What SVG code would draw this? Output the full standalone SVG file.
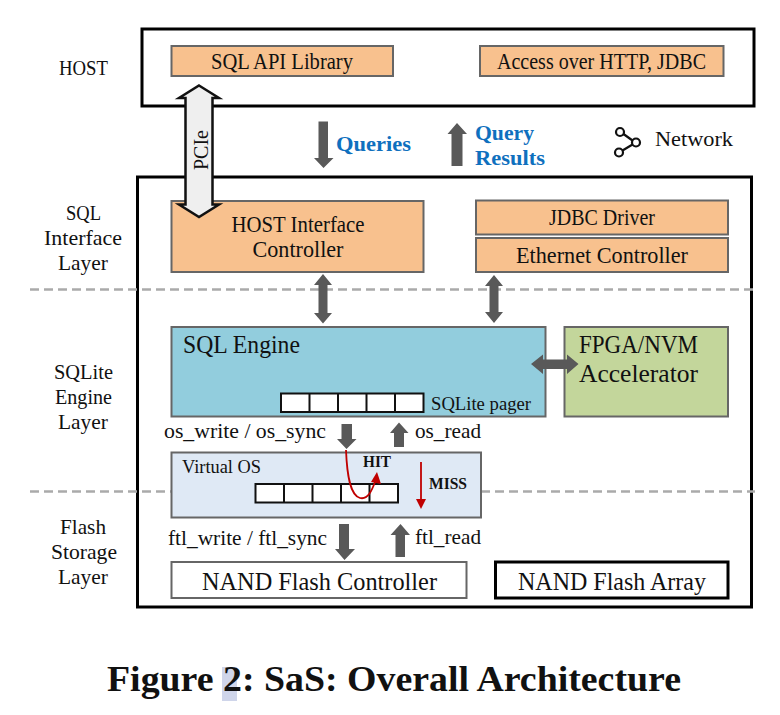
<svg xmlns="http://www.w3.org/2000/svg" width="780" height="715" viewBox="0 0 780 715">
<defs><style>
text{font-family:"Liberation Serif","Times New Roman",serif;fill:#111;text-anchor:middle}
.t20{font-size:22px}.t21{font-size:23px}.t24{font-size:26px}
.blue{fill:#0f70be;font-weight:bold;font-size:21px;text-anchor:start}
.or{fill:#f8c18e;stroke:#666;stroke-width:2}
.frame{fill:#fff;stroke:#000;stroke-width:3}
.ga{fill:#595959}
.cell{fill:#fff;stroke:#111;stroke-width:2}
.s{text-anchor:start}
.e{font-size:21px;text-anchor:start}
</style></defs>
<rect width="780" height="715" fill="#fff"/>
<g id="host"><rect class="frame" x="142" y="29" width="612" height="77"/><text class="t20" x="83.500" y="75" textLength="49" lengthAdjust="spacingAndGlyphs">HOST</text></g>
<g id="sql-api"><rect class="or" x="171.500" y="46" width="221.500" height="30"/><text class="t21" x="282" y="69" textLength="142" lengthAdjust="spacingAndGlyphs">SQL API Library</text></g>
<g id="access"><rect class="or" x="480" y="46" width="243.500" height="30"/><text class="t21" x="601.500" y="69" textLength="209" lengthAdjust="spacingAndGlyphs">Access over HTTP, JDBC</text></g>
<g id="device"><rect class="frame" x="137.500" y="177" width="614" height="430"/></g>
<g id="dividers"><line x1="30" y1="289.500" x2="755" y2="289.500" stroke="#aaa" stroke-width="2.500" stroke-dasharray="9 5"/><line x1="30" y1="491.500" x2="171" y2="491.500" stroke="#aaa" stroke-width="2.500" stroke-dasharray="9 5"/><line x1="481" y1="491.500" x2="755" y2="491.500" stroke="#aaa" stroke-width="2.500" stroke-dasharray="9 5"/></g>
<g id="layer-labels" class="t20">
<text x="83.500" y="220" textLength="35" lengthAdjust="spacingAndGlyphs">SQL</text><text x="83" y="245" textLength="78" lengthAdjust="spacingAndGlyphs">Interface</text><text x="83" y="270" textLength="50" lengthAdjust="spacingAndGlyphs">Layer</text>
<text x="83.500" y="379" textLength="59" lengthAdjust="spacingAndGlyphs">SQLite</text><text x="83.500" y="404" textLength="57" lengthAdjust="spacingAndGlyphs">Engine</text><text x="83" y="429" textLength="50" lengthAdjust="spacingAndGlyphs">Layer</text>
<text x="83" y="534" textLength="46" lengthAdjust="spacingAndGlyphs">Flash</text><text x="84" y="559" textLength="66" lengthAdjust="spacingAndGlyphs">Storage</text><text x="83" y="584" textLength="50" lengthAdjust="spacingAndGlyphs">Layer</text>
</g>
<g id="host-if"><rect class="or" x="171.500" y="201" width="252" height="71"/><text class="t21" x="298" y="232" textLength="133" lengthAdjust="spacingAndGlyphs">HOST Interface</text><text class="t21" x="298" y="257" textLength="91" lengthAdjust="spacingAndGlyphs">Controller</text></g>
<g id="jdbc"><rect class="or" x="476" y="200.500" width="252" height="34"/><text class="t21" x="602" y="225" textLength="106" lengthAdjust="spacingAndGlyphs">JDBC Driver</text></g>
<g id="eth"><rect class="or" x="476" y="238" width="252" height="34"/><text class="t21" x="602" y="263" textLength="172" lengthAdjust="spacingAndGlyphs">Ethernet Controller</text></g>
<g id="sql-engine"><rect x="171.500" y="327" width="374" height="89.500" fill="#92cddd" stroke="#666" stroke-width="2"/><text class="t24 s" x="183" y="353" textLength="117" lengthAdjust="spacingAndGlyphs">SQL Engine</text><text class="s" x="431" y="409.500" style="font-size:18.500px" textLength="100" lengthAdjust="spacingAndGlyphs">SQLite pager</text>
<g id="pager"><rect class="cell" x="281" y="393.500" width="142.500" height="18.500"/><path d="M309.500 393.500v18.500M338 393.500v18.500M366.500 393.500v18.500M395 393.500v18.500" stroke="#111" stroke-width="2"/></g></g>
<g id="fpga"><rect x="564.500" y="327" width="163.500" height="89.500" fill="#c3d69b" stroke="#666" stroke-width="2"/><text class="t24 s" x="579" y="353" textLength="119" lengthAdjust="spacingAndGlyphs">FPGA/NVM</text><text class="t24 s" x="579" y="382" textLength="119" lengthAdjust="spacingAndGlyphs">Accelerator</text></g>
<g id="vos"><rect x="171.500" y="452.500" width="309.500" height="65" fill="#dfe9f5" stroke="#666" stroke-width="2"/><text class="s" x="182" y="473" style="font-size:18.500px" textLength="79" lengthAdjust="spacingAndGlyphs">Virtual OS</text>
<g id="vos-cache"><rect class="cell" x="255.500" y="484" width="142.500" height="18.500"/><path d="M284 484v18.500M312.500 484v18.500M341 484v18.500M369.500 484v18.500" stroke="#111" stroke-width="2"/></g>
<text x="377" y="467" style="font-size:16px;font-weight:bold" textLength="28" lengthAdjust="spacingAndGlyphs">HIT</text><text x="448" y="489" style="font-size:16px;font-weight:bold" textLength="38" lengthAdjust="spacingAndGlyphs">MISS</text></g>
<g id="nand-ctl"><rect x="171.500" y="562" width="295" height="36" fill="#fff" stroke="#666" stroke-width="2"/><text x="319.500" y="589.500" style="font-size:25px" textLength="235" lengthAdjust="spacingAndGlyphs">NAND Flash Controller</text></g>
<g id="nand-arr"><rect x="495.500" y="562" width="232.500" height="36" fill="#fff" stroke="#000" stroke-width="3"/><text x="612" y="589.500" style="font-size:25px" textLength="188" lengthAdjust="spacingAndGlyphs">NAND Flash Array</text></g>
<g id="connectors">
<path d="M199 85.500L219 98H212.500V204.500H219L199 217L179 204.500H185.500V98H179Z" fill="#efefef" stroke="#111" stroke-width="2.500"/>
<text class="t20 s" transform="translate(207.500 170) rotate(-90)" textLength="40" lengthAdjust="spacingAndGlyphs">PCIe</text>
<path class="ga" d="M318.500 121.500H328V158H333.500L323.500 168L314 158H318.500Z"/>
<path class="ga" d="M457 123L467 134H462.500V166H451.500V134H447.500Z"/>
<path class="ga" d="M323 274L332 285H327.500V313H332L323 323.500L314 313H318.500V285H314Z"/>
<path class="ga" d="M494 275L503 286H498.500V312H503L494 323L485 312H489.500V286H485Z"/>
<path class="ga" d="M531 364L543 354.500V359.500H567V354.500L578.500 364L567 374V369H543V374Z"/>
<path class="ga" d="M341.500 424H352V439H356.500L346.500 449L337 439H341.500Z"/>
<path class="ga" d="M399 422.500L408.500 433H404V447H394V433H390Z"/>
<path class="ga" d="M339 524H349V549H355L344.500 560L335 549H339Z"/>
<path class="ga" d="M400.500 524L410 535H405V557H395.500V535H390.500Z"/>
<path d="M346 450C347 475 350 495 360 498C368 500 372 490 375 482" fill="none" stroke="#c00000" stroke-width="1.800"/>
<path d="M377 472L381 484L371 482Z" fill="#c00000"/>
<line x1="421" y1="462" x2="421" y2="500" stroke="#c00000" stroke-width="1.800"/>
<path d="M416 499H426L421 509Z" fill="#c00000"/>
</g>
<g id="edge-labels">
<text class="blue" x="336" y="151" textLength="75" lengthAdjust="spacingAndGlyphs">Queries</text>
<text class="blue" x="475" y="140" textLength="59" lengthAdjust="spacingAndGlyphs">Query</text>
<text class="blue" x="475" y="165" textLength="70" lengthAdjust="spacingAndGlyphs">Results</text>
<text class="e" x="164" y="438" textLength="162" lengthAdjust="spacingAndGlyphs">os_write / os_sync</text>
<text class="e" x="415" y="438" textLength="66" lengthAdjust="spacingAndGlyphs">os_read</text>
<text class="e" x="168" y="545" textLength="159" lengthAdjust="spacingAndGlyphs">ftl_write / ftl_sync</text>
<text class="e" x="415" y="544" textLength="66" lengthAdjust="spacingAndGlyphs">ftl_read</text>
</g>
<g id="network"><g fill="none" stroke="#111" stroke-width="2.200"><circle cx="620" cy="132" r="4"/><circle cx="636" cy="142.500" r="4"/><circle cx="619" cy="152.500" r="4"/><path d="M623.500 134L632.500 140.500M632.500 144.500L622.500 150.500"/></g><text class="t20 s" x="655" y="146" textLength="78" lengthAdjust="spacingAndGlyphs">Network</text></g>
<g id="caption"><rect x="222" y="667" width="15" height="34" fill="#cfd5ea"/><text class="s" x="107" y="691" style="font-size:36px;font-weight:bold" textLength="574" lengthAdjust="spacingAndGlyphs">Figure 2: SaS: Overall Architecture</text></g>
</svg>
